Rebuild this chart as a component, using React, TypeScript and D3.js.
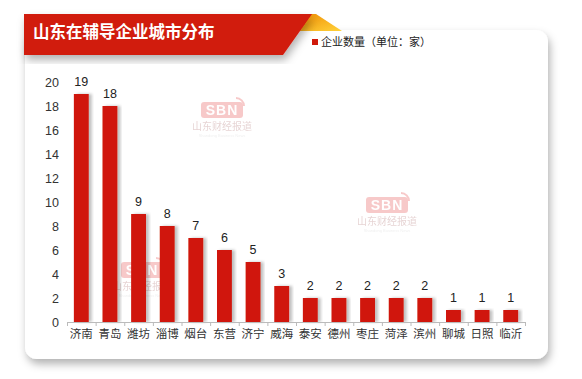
import React from "react";
import * as d3 from "d3";

const categories = ["济南","青岛","潍坊","淄博","烟台","东营","济宁","威海","泰安","德州","枣庄","菏泽","滨州","聊城","日照","临沂"];
const values = [19,18,9,8,7,6,5,3,2,2,2,2,2,1,1,1];
const yTicks = [0,2,4,6,8,10,12,14,16,18,20];
const title = "山东在辅导企业城市分布";
const legendLabel = "企业数量（单位：家）";

const W = 582, H = 379;
const cjk = "'Noto Sans CJK SC', 'Noto Sans', sans-serif";
const num = "'Liberation Sans', Arial, sans-serif";
const barColor = "#d0190a";

function Watermark({ x, y }: { x: number; y: number }) {
  return (
    <g transform={`translate(${x},${y})`} opacity={0.45}>
      <rect x={-21} y={-14} width={42} height={16} rx={3} fill="#ee8a8a" />
      <text x={0} y={-1} textAnchor="middle" fontFamily={num} fontWeight="bold" fontSize={14} fill="#fff" letterSpacing={1}>SBN</text>
      <path d="M14,-18 a8,8 0 0 1 8,8" stroke="#ee8a8a" strokeWidth={2} fill="none" />
      <text x={0} y={14} textAnchor="middle" fontFamily={cjk} fontSize={10} fill="#c9a0a0">山东财经报道</text>
      <text x={0} y={21} textAnchor="middle" fontFamily={num} fontSize={4} fill="#ddd">Shandong Business News</text>
    </g>
  );
}

export default function App() {
  const x = d3.scaleBand<string>().domain(categories).range([67, 525]).paddingInner(0.48).paddingOuter(0.24);
  const y = d3.scaleLinear().domain([0, 20]).range([322, 82]);
  const step = x.step();
  const tickXs = d3.range(categories.length + 1).map(i => 67 + i * (458 / categories.length));

  return (
    <svg width={W} height={H} style={{ position: "absolute", left: 0, top: 0, background: "#fff" }}>
      <defs>
        <filter id="cardShadow" x="-10%" y="-10%" width="120%" height="130%">
          <feDropShadow dx={2} dy={5} stdDeviation={4} floodColor="#000" floodOpacity={0.3} />
        </filter>
        <filter id="barShadow" x="-30%" y="-10%" width="160%" height="120%">
          <feDropShadow dx={3} dy={0} stdDeviation={1.5} floodColor="#000" floodOpacity={0.25} />
        </filter>
        <linearGradient id="fold" x1="0" y1="0" x2="1" y2="1">
          <stop offset="0" stopColor="#f08a00" />
          <stop offset="1" stopColor="#ffd23a" />
        </linearGradient>
      </defs>

      {/* card */}
      <rect x={25} y={30} width={523} height={329} rx={12} fill="#fff" filter="url(#cardShadow)" />

      {/* fold + banner */}
      <polygon points="304,14 316,14 342,31 292,31" fill="url(#fold)" />
      <polygon points="24,14 312,14 283,55 24,55" fill="#d11a0a" filter="url(#cardShadow)" />
      <text x={33} y={38} fontFamily={cjk} fontWeight="bold" fontSize={16.5} fill="#fff">{title}</text>

      {/* legend */}
      <rect x={312} y={39} width={6} height={6} fill={barColor} />
      <text x={321} y={46} fontFamily={cjk} fontSize={11} fill="#222">{legendLabel}</text>

      {/* watermarks */}
      <Watermark x={222} y={116} />
      <Watermark x={387} y={211} />
      <Watermark x={142} y={276} />

      {/* y axis labels */}
      {yTicks.map(t => (
        <text key={t} x={59} y={y(t) + 4.5} textAnchor="end" fontFamily={num} fontSize={12.5} fill="#333">{t}</text>
      ))}

      {/* bars */}
      {categories.map((c, i) => (
        <g key={c}>
          <rect x={x(c)!} y={y(values[i])} width={x.bandwidth()} height={y(0) - y(values[i])} fill={barColor} filter="url(#barShadow)" />
          <text x={x(c)! + x.bandwidth() / 2} y={y(values[i]) - 8} textAnchor="middle" fontFamily={num} fontSize={12.5} fill="#222">{values[i]}</text>
          <text x={67 + step * (i + 0.5)} y={338} textAnchor="middle" fontFamily={cjk} fontSize={11.5} fill="#333">{c}</text>
        </g>
      ))}

      {/* x axis */}
      <line x1={67} x2={525} y1={322.5} y2={322.5} stroke="#bbb" strokeWidth={1} />
      {tickXs.map((tx, i) => (
        <line key={i} x1={tx + 0.5} x2={tx + 0.5} y1={322} y2={326} stroke="#bbb" />
      ))}
    </svg>
  );
}
